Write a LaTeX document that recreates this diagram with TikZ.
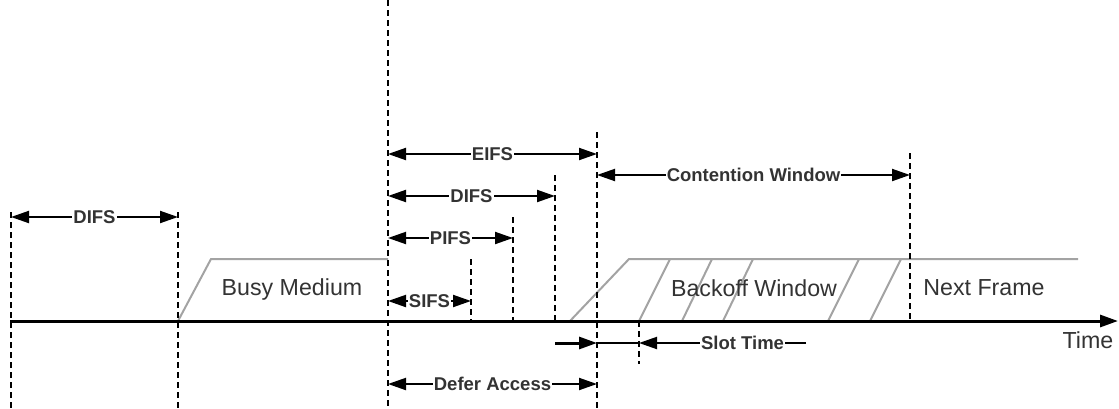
\documentclass[tikz,border=0pt]{standalone}
\usepackage{fontspec}
\setmainfont{Liberation Sans}
\usetikzlibrary{arrows.meta}
\definecolor{txt}{HTML}{333333}
\definecolor{gr}{HTML}{A3A3A3}
\begin{document}
\begin{tikzpicture}[x=1pt,y=-1pt,
  vdash/.style={line width=2.2pt,dash pattern=on 6pt off 4pt},
  tip/.tip={Triangle[length=18pt,width=12pt]},
  dim/.style={line width=2pt,{tip}-{tip}},
  lbl/.style={fill=white,inner sep=1pt,text=txt,font=\bfseries\fontsize{18.5}{20}\selectfont},
  big/.style={text=txt,font=\fontsize{23.2}{25}\selectfont},
  busy/.style={gr,line width=2pt}]
\useasboundingbox (0,0) rectangle (1119,408);
% busy shapes
\draw[busy] (178,321) -- (211,259) -- (388,259);
\draw[busy] (570,321) -- (629,259) -- (1078,259);
\foreach \a/\b in {639/670,682/712,723/753,828/859,870/901}
  \draw[busy] (\a,321) -- (\b,259);
% texts
\node[big] (busy) at (292,289) {Busy Medium};
\node[big] (backoff) at (754,288) {Backoff Window};
\node[big] (next) at (984,288) {Next Frame};
\node[big] (time) at (1088,340) {Time};
% verticals
\coordinate (v1t) at (11,212);  \coordinate (v1b) at (11,408);
\coordinate (v2t) at (178,212); \coordinate (v2b) at (178,408);
\coordinate (v3t) at (388,0);   \coordinate (v3b) at (388,408);
\coordinate (v4t) at (471,259); \coordinate (v4b) at (471,321);
\coordinate (v5t) at (513,217); \coordinate (v5b) at (513,321);
\coordinate (v6t) at (555,175); \coordinate (v6b) at (555,321);
\coordinate (v7t) at (597,132); \coordinate (v7b) at (597,408);
\coordinate (v8t) at (639,321); \coordinate (v8b) at (639,364);
\coordinate (v9t) at (910,153); \coordinate (v9b) at (910,321);
\foreach \v in {1,...,9} \draw[vdash] (v\v t) -- (v\v b);
% axis
\coordinate (t0) at (10,321); \coordinate (tend) at (1118,321);
\draw[line width=3pt,-{tip}] (t0) -- (tend);
% dimensions
\coordinate (d1a) at (11,217);  \coordinate (d1b) at (178,217);
\draw[dim] (d1a) -- node[lbl] {DIFS} (d1b);
\coordinate (e1) at (388,154);  \coordinate (e2) at (597,154);
\draw[dim] (e1) -- node[lbl] {EIFS} (e2);
\coordinate (f1) at (388,196);  \coordinate (f2) at (555,196);
\draw[dim] (f1) -- node[lbl] {DIFS} (f2);
\coordinate (p1) at (388,238);  \coordinate (p2) at (513,238);
\draw[dim] (p1) -- node[lbl] {PIFS} (p2);
\coordinate (s1) at (388,301);  \coordinate (s2) at (471,301);
\draw[dim] (s1) -- node[lbl] {SIFS} (s2);
\coordinate (a1) at (388,384);  \coordinate (a2) at (597,384);
\draw[dim] (a1) -- node[lbl] {Defer Access} (a2);
\coordinate (c1) at (597,175);  \coordinate (c2) at (910,175);
\draw[dim] (c1) -- node[lbl] {Contention Window} (c2);
% slot time
\coordinate (st0) at (555,343); \coordinate (st1) at (597,343);
\coordinate (st2) at (639,343); \coordinate (st3) at (806,343);
\draw[line width=3pt,-{tip}] (st0) -- (st1);
\draw[line width=2pt] (st1) -- (st2);
\draw[line width=2pt,-{tip}] (st3) -- node[pos=0.38,lbl] {Slot Time} (st2);
\end{tikzpicture}
\end{document}
